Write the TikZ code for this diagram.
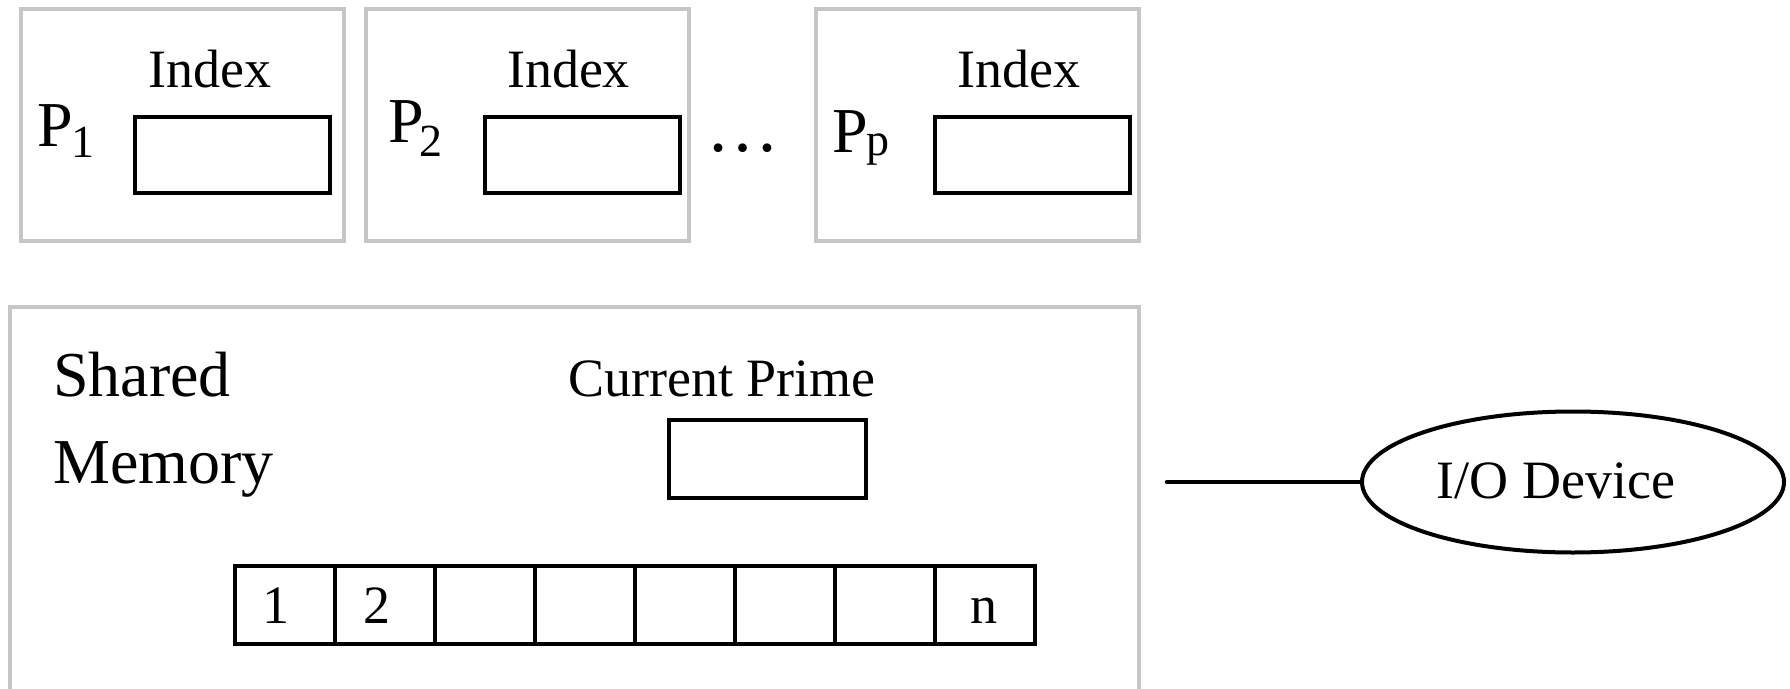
\documentclass[tikz,border=0pt]{standalone}
\usepackage{fontspec}
\setmainfont{Liberation Serif}
\usetikzlibrary{shapes.geometric}
\definecolor{framegray}{HTML}{C6C6C6}
\newcommand{\fs}[1]{\fontsize{#1}{#1}\selectfont}
\begin{document}
\begin{tikzpicture}[x=1pt,y=-1pt,
  procbox/.style={draw=framegray, line width=4pt, inner sep=0pt,
    minimum width=323pt, minimum height=232pt},
  slotbox/.style={draw=black, line width=4pt, inner sep=0pt,
    minimum width=195pt, minimum height=76pt},
  cellbox/.style={draw=black, line width=3.5pt, inner sep=0pt,
    minimum width=100pt, minimum height=78pt},
  txt/.style={inner sep=0pt, anchor=base, font=\fs{54}},
  bigtxt/.style={inner sep=0pt, anchor=base west, font=\fs{64}},
  wire/.style={draw=black, line width=4.5pt, line cap=round}]
\useasboundingbox (0,0) rectangle (1790,688);
\clip (0,0) rectangle (1790,688);

% processors
\node[procbox] (proc1) at (182,125) {};
\node[procbox] (proc2) at (527,125) {};
\node[procbox] (procp) at (977,125) {};

\node[slotbox] (idx1) at (232.5,155) {};
\node[slotbox] (idx2) at (582,155) {};
\node[slotbox] (idxp) at (1032,155) {};

\node[txt] (idxlbl1) at (210,87) {Index};
\node[txt] (idxlbl2) at (568.5,87) {Index};
\node[txt] (idxlblp) at (1019,87) {Index};

\node[bigtxt] (plbl1) at (37,146) {P\kern-1pt\raisebox{-11pt}{\fs{46}1}};
\node[bigtxt] (plbl2) at (388,142) {P\kern-4pt\raisebox{-14pt}{\fs{46}2}};
\node[bigtxt] (plblp) at (832,152) {P\kern-1pt\raisebox{-3pt}{\fs{46}p}};

\node[inner sep=0pt, anchor=base, font=\fs{73}] (dots) at (743,151) {…};

% shared memory
\node[draw=framegray, line width=4pt, inner sep=0pt,
  minimum width=1129pt, minimum height=500pt] (shared) at (574.5,557) {};
\node[bigtxt] (sharedlbl) at (53,396) {Shared};
\node[bigtxt] (memlbl) at (53,483) {Memory};

\node[txt] (cplbl) at (722,396) {Current Prime};
\node[slotbox, minimum width=197pt, minimum height=78pt] (cp) at (767.5,459) {};

% sieve array
\foreach \i in {1,...,8} {
  \node[cellbox] (cell\i) at (185+100*\i,605) {};
}
\node[txt] (n1) at (276,623) {1};
\node[txt] (n2) at (377,623) {2};
\node[txt] (nn) at (984,623) {n};

% I/O device
\node[draw=black, line width=4pt, ellipse, inner sep=0pt,
  minimum width=422pt, minimum height=141pt] (io) at (1573,482) {};
\node[txt] (iolbl) at (1556,498) {I/O Device};
\coordinate (wireend) at (1167,482);
\draw[wire] (wireend) -- (io.west);
\end{tikzpicture}
\end{document}
